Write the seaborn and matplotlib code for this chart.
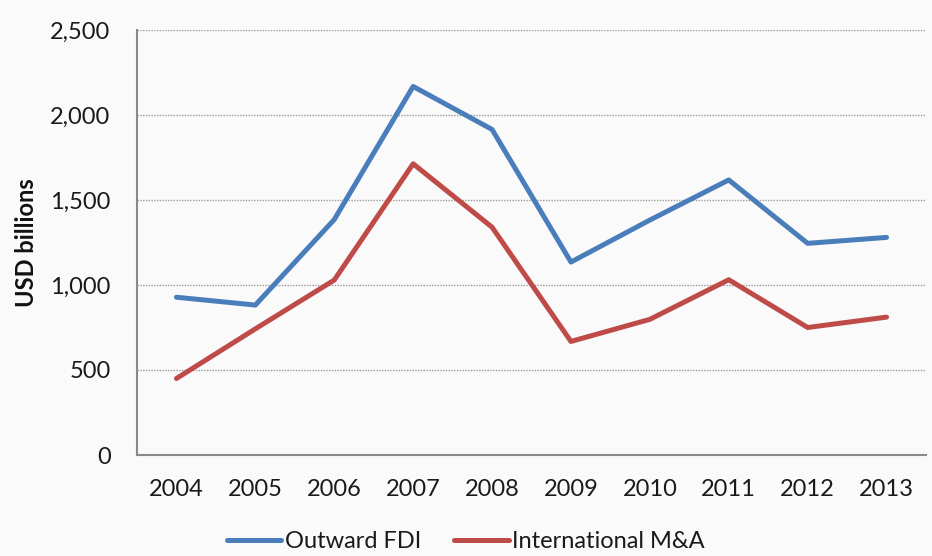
import matplotlib
matplotlib.use("Agg")
import matplotlib.pyplot as plt
from matplotlib.ticker import FuncFormatter, MultipleLocator
import seaborn as sns
import pandas as pd

# Annual values, USD billions
years = [2004, 2005, 2006, 2007, 2008, 2009, 2010, 2011, 2012, 2013]
outward_fdi = [928, 882, 1385, 2168, 1915, 1135, 1382, 1618, 1245, 1280]
international_ma = [450, 742, 1029, 1713, 1340, 668, 798, 1031, 750, 811]

series_names = ["Outward FDI", "International M&A"]
series_colors = ["#4a7ebb", "#be4b48"]

df = pd.DataFrame({
    "Year": years * 2,
    "Value": outward_fdi + international_ma,
    "Series": [series_names[0]] * len(years) + [series_names[1]] * len(years),
})

sns.set_theme(style="white")
plt.rcParams["font.family"] = ["Lato", "DejaVu Sans"]

bg = "#fafafa"
fig = plt.figure(figsize=(9.32, 5.56), dpi=100, facecolor=bg)
ax = fig.add_axes([137 / 932, 1 - 455 / 556, (926 - 137) / 932, (455 - 30) / 556])
ax.set_facecolor(bg)

sns.lineplot(
    data=df, x="Year", y="Value", hue="Series",
    hue_order=series_names, palette=series_colors,
    linewidth=3.6, ax=ax, solid_capstyle="round",
)

ax.set_xlim(2003.5, 2013.5)
ax.set_ylim(0, 2500)
ax.yaxis.set_major_locator(MultipleLocator(500))
ax.yaxis.set_major_formatter(FuncFormatter(lambda v, _: f"{v:,.0f}"))
ax.set_xticks(years)
ax.set_xticklabels([str(y) for y in years])

ax.grid(axis="y", color="#9a9a9a", linestyle=(0, (1, 1)), linewidth=1.0)
ax.set_axisbelow(True)
for side in ("top", "right"):
    ax.spines[side].set_visible(False)
for side in ("left", "bottom"):
    ax.spines[side].set_color("#8a8a8a")
    ax.spines[side].set_linewidth(1.5)

ax.tick_params(axis="both", length=0, labelsize=17, colors="#1a1a1a")
ax.tick_params(axis="y", pad=19)
ax.tick_params(axis="x", pad=17)
ax.set_xlabel("")
ax.set_ylabel("")

fig.text(26 / 932, 1 - 243 / 556, "USD billions", rotation=90,
         ha="center", va="center", fontsize=17, fontweight="bold", color="#111111")

handles, labels = ax.get_legend_handles_labels()
ax.legend(
    handles, labels, ncol=2, frameon=False, fontsize=17,
    loc="center", bbox_to_anchor=(466 / 932, 14 / 556),
    bbox_transform=fig.transFigure,
    handlelength=2.3, handletextpad=0.15, columnspacing=1.4,
    labelcolor="#1a1a1a", borderpad=0.1,
)

fig.savefig("out.png", dpi=100, facecolor=bg)
